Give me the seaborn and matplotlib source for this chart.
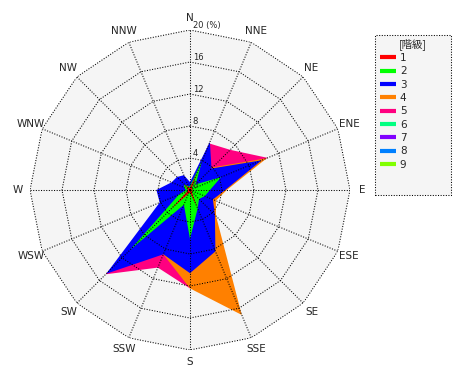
import numpy as np
import matplotlib
matplotlib.use("Agg")
import matplotlib.pyplot as plt
from matplotlib.lines import Line2D
from matplotlib.patches import Rectangle
import seaborn as sns

# 16 wind directions, clockwise from N
directions = ["N", "NNE", "NE", "ENE", "E", "ESE", "SE", "SSE",
              "S", "SSW", "SW", "WSW", "W", "WNW", "NW", "NNW"]

# frequency (%) per class and direction
class1 = [0.3, 2.2, 0.3, 0.3, 0.3, 0.3, 0.3, 2.3, 0.3, 0.5, 3.5, 0.3, 0.3, 0.3, 1.0, 0.3]
class2 = [0.5, 3.9, 1.0, 4.2, 2.5, 2.0, 1.6, 2.5, 6.1, 2.0, 10.5, 1.5, 0.5, 0.8, 1.0, 0.5]
class3 = [1.0, 6.5, 3.8, 9.7, 4.4, 3.1, 4.4, 8.3, 10.4, 8.7, 14.8, 4.1, 4.2, 2.5, 2.3, 2.0]
class4 = [0.5, 2.5, 4.0, 10.4, 4.6, 3.5, 4.6, 16.9, 12.3, 8.7, 3.0, 1.0, 0.5, 0.5, 0.5, 0.5]
class5 = [0.3, 6.3, 7.1, 10.5, 3.0, 1.0, 1.0, 2.0, 12.3, 10.5, 14.9, 2.0, 1.0, 0.3, 0.3, 0.3]
class6 = [0.0] * 16
class7 = [0.0] * 16
class8 = [0.0] * 16
class9 = [0.0] * 16

class_labels = ["1", "2", "3", "4", "5", "6", "7", "8", "9"]
class_colors = ["#ff0000", "#00ff00", "#0000ff", "#ff8000", "#ff0080",
                "#00ff80", "#8000ff", "#0080ff", "#80ff00"]
radial_ticks = [0, 4, 8, 12, 16, 20]

sns.set_style("white")
plt.rcParams['font.family'] = ['DejaVu Sans', 'Noto Sans CJK JP']

fig = plt.figure(figsize=(4.7, 3.8), dpi=100)
ax = fig.add_axes([30 / 470, 30 / 380, 320 / 470, 320 / 380], projection='polar')
ax.set_theta_zero_location('N')
ax.set_theta_direction(-1)
ax.set_ylim(0, 20)
ax.grid(False)
ax.set_xticks([])
ax.set_yticks([])
ax.spines['polar'].set_visible(False)
ax.patch.set_alpha(0)

theta = np.deg2rad(np.arange(16) * 22.5)
closed = np.append(theta, theta[0])

def close(vals):
    return list(vals) + [vals[0]]

# grey plot area (16-gon)
ax.fill(closed, close([radial_ticks[-1]] * 16), color='#f5f5f5', lw=0, zorder=0)

# classes, highest first so class 1 ends up on top
classes = [class1, class2, class3, class4, class5, class6, class7, class8, class9]
for vals, col in reversed(list(zip(classes, class_colors))):
    if max(vals) > 0:
        ax.fill(closed, close(vals), color=col, lw=0, zorder=2)

# dotted polygon grid
dots = (0, (1, 1.5))
for r in radial_ticks[1:]:
    ax.plot(closed, close([r] * 16), color='k', lw=0.75, ls=dots, zorder=3)
for t in theta:
    ax.plot([t, t], [0, radial_ticks[-1]], color='k', lw=0.75, ls=dots, zorder=3)

# radial labels
for r in radial_ticks:
    lab = f"{r} (%)" if r == radial_ticks[-1] else str(r)
    ax.annotate(lab, xy=(0, r), xytext=(2, 0.3), textcoords='offset points',
                ha='left', va='bottom', fontsize=6, zorder=4)

# direction labels
for t, d in zip(theta, directions):
    ax.text(t, 21.5, d, ha='center', va='center', fontsize=7.5)

# legend box
fig.add_artist(Rectangle((375 / 470, 1 - 195 / 380), 76 / 470, 160 / 380,
                         transform=fig.transFigure, facecolor='#f5f5f5',
                         edgecolor='k', lw=0.75, ls=dots))
fig.text(413 / 470, 1 - 44 / 380, "[階級]", ha='center', va='center', fontsize=7.5,
         family=['Noto Sans CJK JP', 'DejaVu Sans'])
handles = [Line2D([], [], color=c, lw=3, solid_capstyle='butt') for c in class_colors]
fig.legend(handles, class_labels, loc='upper left',
           bbox_to_anchor=(380 / 470, 1 - 53 / 380), frameon=False,
           fontsize=7.5, handlelength=1.55, handletextpad=0.35,
           labelspacing=0.32, borderpad=0, borderaxespad=0)

fig.savefig("out.png", dpi=100)
